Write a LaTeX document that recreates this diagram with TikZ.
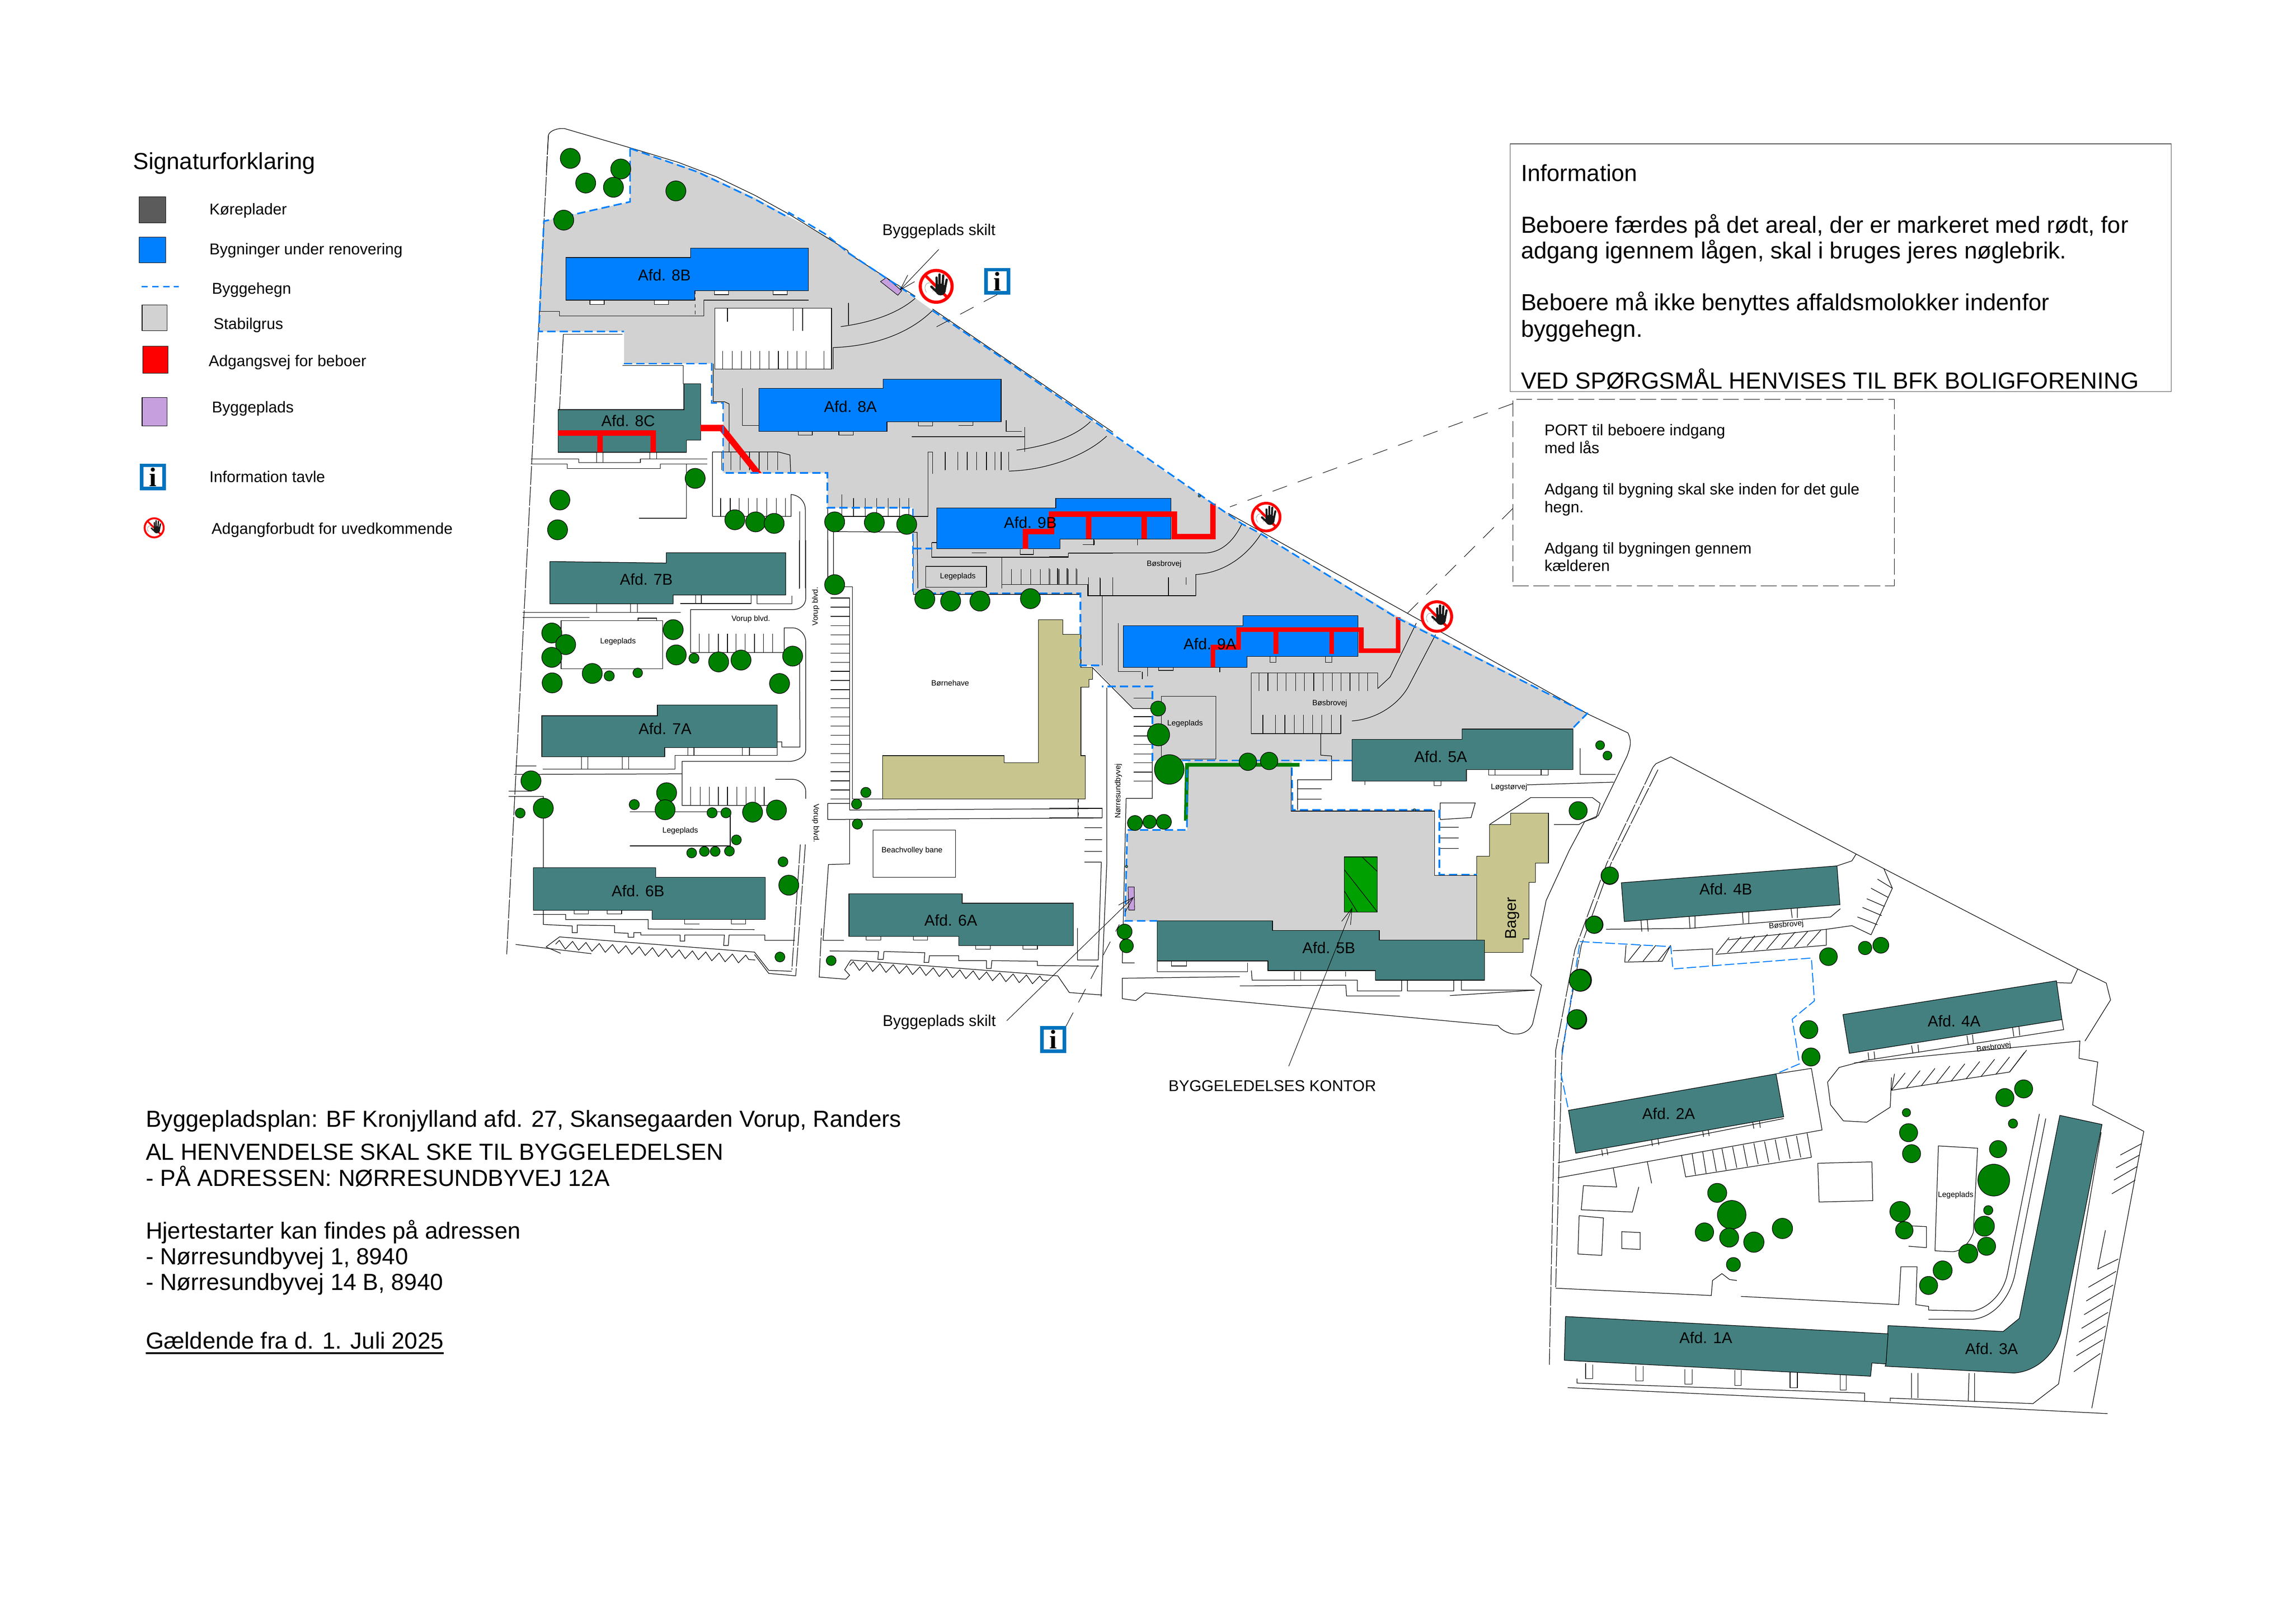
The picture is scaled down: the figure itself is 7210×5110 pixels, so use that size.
\documentclass[tikz,border=0pt]{standalone}
\usepackage{fontspec}
\setmainfont{Liberation Sans}
\newfontfamily\signfont{Liberation Serif}
\usetikzlibrary{arrows.meta}
\usetikzlibrary{decorations.pathmorphing}

\definecolor{plate}{RGB}{91,91,91}
\definecolor{renoblue}{RGB}{0,128,255}
\definecolor{teal1}{RGB}{68,128,128}
\definecolor{gravel}{RGB}{210,210,210}
\definecolor{plotpurple}{RGB}{198,160,222}
\definecolor{khaki1}{RGB}{200,198,142}
\definecolor{treegreen}{RGB}{0,128,0}
\definecolor{yardgreen}{RGB}{0,160,0}
\definecolor{infoblue}{RGB}{0,115,190}

\begin{document}
\begin{tikzpicture}[
        x=0.01cm, y=-0.01cm,
        zoneA/.style={shift={(1600,350)}, x=0.012117cm, y=-0.009566cm},
        zoneB/.style={shift={(1600,1700)}, x=0.012117cm, y=-0.009566cm},
        zoneC/.style={shift={(3300,1500)}, x=0.012117cm, y=-0.012117cm},
        zoneD/.style={shift={(4800,2300)}, x=0.013393cm, y=-0.014349cm},
        outline/.style={draw=black, line width=.018cm},
        longdash/.style={outline, dash pattern=on .6cm off .05cm},
        fence/.style={draw=renoblue, line width=.05cm, dash pattern=on .26cm off .13cm},
        thinfence/.style={draw=renoblue, line width=.03cm, dash pattern=on .3cm off .1cm},
        block/.style={draw=black, line width=.018cm, fill=teal1},
        renoblock/.style={draw=black, line width=.018cm, fill=renoblue},
        tan/.style={draw=black, line width=.018cm, fill=khaki1},
        access/.style={draw=red, line width=.17cm, line join=miter},
        hedge/.style={draw=treegreen, line width=.12cm},
        treedot/.style={circle, fill=treegreen, draw=black, line width=.018cm, inner sep=0pt, minimum size=#1*0.01cm},
        treedot/.default=63,
        post/.style={circle, fill=teal1, draw=black, line width=.01cm, inner sep=0pt, minimum size=.08cm},
        afd/.style={font=\fontsize{14}{16}\selectfont, inner sep=0pt},
        mapsmall/.style={font=\fontsize{6.9}{8}\selectfont, inner sep=0pt},
        keytext/.style={font=\fontsize{14}{16}\selectfont, inner sep=0pt, anchor=base west},
        bigtext/.style={font=\fontsize{20.8}{24}\selectfont, inner sep=0pt, anchor=base west},
        leader/.style={draw=black, line width=.015cm, -{Straight Barb[length=.5cm,width=.3cm]}},
        dashleader/.style={draw=black, line width=.015cm, dash pattern=on .48cm off .36cm},
        infosign/.style={rectangle, draw=infoblue, line width=.11cm, fill=white, inner sep=0pt, minimum width=.7cm, minimum height=.73cm, font=\signfont\bfseries\fontsize{24}{24}\selectfont},
        stopdisc/.style={circle, fill=white, draw=red, inner sep=0pt},
    ]

    \def\stopsign#1#2#3#4{
        \pgfmathsetmacro \signu {#4*0.01}
        \pgfmathsetmacro \signw {#4*0.01*0.13}
        \begin{scope}[shift={(#2,#3)}, x=\signu cm, y=-\signu cm]
            \node[stopdisc, minimum size=1.82*\signu cm, line width=.18*\signu cm] (#1) at (0,0) {};
            \draw[draw=gray, line width=.01cm] (-.55,.35) .. controls (-.75,.1) and (-.6,-.25) .. (-.35,-.2) .. controls (-.15,-.15) and (-.15,.1) .. (-.2,.3);
            \draw[draw=red, line width=.16*\signu cm] (-.64,-.64) -- (.64,.64);
            \fill[black!90] (.25,.18) ellipse (.31 and .34);
            \draw[draw=black!90, line width=\signw cm, line cap=round] (.04,.1) -- (.02,-.5);
            \draw[draw=black!90, line width=\signw cm, line cap=round] (.2,.05) -- (.2,-.68);
            \draw[draw=black!90, line width=\signw cm, line cap=round] (.36,.05) -- (.4,-.62);
            \draw[draw=black!90, line width=\signw cm, line cap=round] (.5,.12) -- (.6,-.38);
            \draw[draw=black!90, line width=\signw cm, line cap=round] (.02,.3) -- (-.28,.02);
        \end{scope}
    }

    \useasboundingbox[fill=white] (0,0) rectangle (7210,5110);

    % Gravel areas
    \fill[gravel] (1982,467) -- (2194,537) -- (2375,623) -- (2478,680) -- (2606,747) -- (2672,795) -- (2872,933) -- (2933,977) -- (3175,1139) -- (3500,1369) -- (3688,1500) -- (3906,1645) -- (4390,1936) -- (4996,2245) -- (4948,2294) -- (4948,2400) -- (3625,2393) -- (3625,2229) -- (3564,2229) -- (3436,2094) -- (3399,2094) -- (3399,1867) -- (2872,1867) -- (2872,1598) -- (2603,1598) -- (2603,1488) -- (2275,1488) -- (2275,1268) -- (2239,1268) -- (2239,1144) -- (1963,1144) -- (1963,1043) -- (1695,1043) -- (1711,696) -- (1982,635) -- cycle;
    \begin{scope}[zoneC]
        \fill[gravel] (360,737) -- (630,737) -- (630,868) -- (1000,868) -- (1000,1035) -- (1110,1035) -- (1110,1203) -- (857,1203) -- (857,1178) -- (580,1178) -- (580,1153) -- (197,1153) -- (205,918) -- (358,918) -- cycle;
    \end{scope}

    % Outlines, upper left part
    \draw[longdash] (1725,427) -- (1594,3003);
    \draw[outline] (1622,2972) -- (1860,3001);
    \begin{scope}[zoneA]
        \draw[outline, fill=white] (535,647) -- (838,647) -- (838,848) -- (535,848) -- cycle;
        \draw[outline] (103,80) .. controls (105,65) and (125,55) .. (145,57) -- (315,120) -- (440,168) -- (540,216) -- (640,277) -- (727,338) -- (880,458) -- (882,468) -- (1055,608);
        \draw[outline] (1100,650) -- (1568,1055);
        \draw[longdash] (103,80) -- (98,200);
        \draw[outline] (80,658) -- (132,658) -- (132,673) -- (507,673) -- (507,621) -- (778,621);
        \draw[outline, dashed] (484,590) -- (484,670);
        \draw[outline] (882,630) -- (882,703);
        \draw[outline] (862,708) .. controls (940,695) and (1010,665) .. (1055,615);
        \draw[outline] (842,848) -- (842,777) .. controls (950,772) and (1040,730) .. (1100,655);
        \draw[outline] (568,647) -- (568,692) (739,647) -- (739,722) (763,647) -- (763,722);
        \draw[outline] (555,788) -- ++(0,60) (580,788) -- ++(0,60) (604,788) -- ++(0,60) (628,788) -- ++(0,60) (652,788) -- ++(0,60) (676,788) -- ++(0,60) (700,788) -- ++(0,60) (724,788) -- ++(0,60) (748,788) -- ++(0,60) (772,788) -- ++(0,60) (818,788) -- ++(0,60);
        \draw[outline] (607,910) -- (607,1033) -- (649,1033);
        \draw[outline] (752,1053) -- (752,1065) -- (788,1065) -- (788,1053) (857,1053) -- (857,1065) -- (894,1065) -- (894,1053);
        \draw[outline] (1063,1021) -- (1063,1035) -- (1100,1035) -- (1100,1021) (1168,1033) -- (1205,1033) -- (1205,1021);
        \draw[outline, fill=white] (211,621) -- (211,635) -- (248,635) -- (248,621) -- cycle (378,621) -- (378,635) -- (415,635) -- (415,621) -- cycle;
        \draw[outline, fill=white] (534,590) -- (534,603) -- (571,603) -- (571,590) -- cycle (686,590) -- (686,603) -- (723,603) -- (723,590) -- cycle;
        \draw[outline] (1291,1015) -- (1291,1053) -- (1332,1053) (1339,1038) -- (1339,1120) (1046,1070) -- (1339,1070);
        \draw[outline] (1318,1114) .. controls (1400,1100) and (1470,1070) .. (1510,1020);
        \draw[outline] (1298,1183) .. controls (1400,1180) and (1500,1130) .. (1552,1068);
        \draw[outline] (1088,1120) -- (1100,1120) -- (1100,1192) (1088,1120) -- (1088,1332) -- (838,1332);
        \draw[outline] (1133,1120) -- ++(0,60) (1166,1120) -- ++(0,60) (1190,1120) -- ++(0,60) (1214,1120) -- ++(0,60) (1240,1120) -- ++(0,60) (1262,1120) -- ++(0,60) (1278,1120) -- ++(0,60) (1298,1120) -- ++(0,60);
        \draw[outline] (531,830) -- (531,955) -- (560,955) -- (572,962) -- (572,1120);
        \draw[outline] (529,1332) -- (529,1120) -- (700,1120) -- (730,1130) -- (732,1190);
        \draw[outline] (553,1120) -- ++(0,60) (577,1120) -- ++(0,60) (601,1120) -- ++(0,60) (625,1120) -- ++(0,60) (650,1120) -- ++(0,60) (672,1120) -- ++(0,60) (698,1120) -- ++(0,60);
        \draw[outline] (529,1332) -- (733,1332) -- (733,1260) .. controls (755,1262) and (770,1285) .. (770,1310) -- (770,1568);
        \draw[outline] (755,1568) -- (755,1315);
        \draw[outline] (550,1272) -- ++(0,60) (575,1272) -- ++(0,60) (598,1272) -- ++(0,60) (622,1272) -- ++(0,60) (645,1272) -- ++(0,60) (670,1272) -- ++(0,60) (695,1272) -- ++(0,60) (718,1272) -- ++(0,60);
        \draw[outline] (865,1260) -- ++(0,72) (895,1272) -- ++(0,60) (925,1272) -- ++(0,60) (955,1272) -- ++(0,60) (985,1272) -- ++(0,60) (1015,1272) -- ++(0,60) (1038,1272) -- ++(0,60);
        \draw[outline] (828,1305) -- (828,1568) (843,1568) -- (843,1382) -- (1060,1384) -- (1062,1568);
        \draw[outline] (142,733) -- (295,733);
        \draw[longdash] (142,733) -- (132,981);
        \draw[outline] (295,836) -- (453,836) -- (453,896);
        \draw[outline] (58,1143) -- (182,1143) -- (182,1155) -- (342,1155) -- (342,1143) -- (515,1143);
        \draw[outline] (58,1160) -- (152,1160) -- (152,1175) -- (394,1175) -- (394,1160) -- (515,1160);
        \draw[outline] (228,1121) -- (228,1155) (245,1121) -- (245,1155) (366,1121) -- (366,1143) (384,1121) -- (384,1143);
        \draw[outline] (461,1160) -- (461,1338) -- (338,1338);
        \draw[outline] (1098,1418) -- (1098,1466) -- (1452,1466) -- (1452,1453) -- (1568,1453) (1098,1418) -- (1112,1418);
        \draw[outline] (1202,1452) -- (1240,1452) (1327,1440) -- (1327,1457) -- (1362,1457) -- (1362,1440) (1490,1425) -- (1520,1425) -- (1520,1410);
        \draw[outline] (1280,1466) -- (1280,1568);
    \end{scope}

    % Outlines, lower left part
    \begin{scope}[zoneB]
        \draw[outline] (1082,86) -- (1240,86) -- (1240,155) -- (1082,155) -- cycle;
        \draw[outline] (1280,146) -- (1503,146) -- (1503,183) -- (1568,183) (1535,125) -- (1535,183);
        \draw[outline] (1305,95) -- ++(0,51) (1330,95) -- ++(0,51) (1355,95) -- ++(0,51) (1380,95) -- ++(0,51) (1405,95) -- ++(0,51) (1428,95) -- ++(0,51) (1452,95) -- ++(0,51) (1475,95) -- ++(0,51);
        \draw[outline] (1050,0) -- (1050,178) -- (1485,178);
        \draw[outline] (843,0) -- (843,153) -- (892,153) -- (892,851) -- (971,851);
        \draw[outline] (836,190) -- ++(49,0) (836,220) -- ++(49,0) (836,250) -- ++(49,0) (836,281) -- ++(49,0) (836,311) -- ++(49,0) (836,341) -- ++(49,0) (836,371) -- ++(49,0) (836,401) -- ++(49,0) (836,431) -- ++(49,0) (836,461) -- ++(49,0) (836,491) -- ++(49,0) (836,521) -- ++(49,0) (836,551) -- ++(49,0) (836,581) -- ++(49,0) (836,611) -- ++(49,0) (836,641) -- ++(49,0) (836,671) -- ++(49,0) (836,701) -- ++(49,0) (836,731) -- ++(49,0) (836,761) -- ++(49,0) (836,791) -- ++(49,0) (836,821) -- ++(49,0) (836,851) -- ++(49,0);
        \draw[outline] (885,190) -- (885,887) -- (1540,882);
        \draw[outline] (828,0) -- (828,150) (828,865) -- (885,865) (828,865) -- (828,918) -- (1540,913);
        \draw[outline] (885,918) -- (885,1064) -- (830,1066) -- (816,1315) -- (870,1315);
        \draw[outline, dashed] (1478,851) -- (1478,912);
        \draw[outline] (1494,945) -- (1540,945) (1496,984) -- (1540,984) (1494,1023) -- (1540,1023) (1494,1058) -- (1538,1058) -- (1530,1380) -- (1476,1380) -- (1476,1275);
        \draw[outline] (946,953) -- (1160,953) -- (1160,1108) -- (946,1108) -- cycle;
        \draw[outline] (771,0) -- (771,190) .. controls (771,215) and (755,228) .. (737,228) -- (472,228) -- (472,369) -- (715,369) -- (715,288) -- (737,288) .. controls (755,288) and (771,310) .. (771,335) -- (771,690) .. controls (771,710) and (750,727) .. (727,727) -- (450,727) -- (450,872) -- (692,872);
        \draw[outline] (754,0) -- (754,160);
        \draw[outline] (692,786) -- (737,786) .. controls (755,786) and (771,805) .. (771,825) -- (771,850);
        \draw[outline] (755,372) -- (756,680) -- (709,680) -- (709,663) -- (697,663);
        \draw[outline] (495,308) -- ++(0,61) (520,308) -- ++(0,61) (544,308) -- ++(0,61) (568,308) -- ++(0,61) (590,308) -- ++(0,61) (614,308) -- ++(0,61) (638,308) -- ++(0,61) (661,308) -- ++(0,61) (685,308) -- ++(0,61);
        \draw[outline] (472,811) -- ++(0,61) (497,811) -- ++(0,61) (521,811) -- ++(0,61) (544,811) -- ++(0,61) (568,811) -- ++(0,61) (592,811) -- ++(0,61) (616,811) -- ++(0,61) (640,811) -- ++(0,61) (663,811) -- ++(0,61);
        \draw[outline] (228,209) -- (228,237) (316,209) -- (316,237) (334,209) -- (334,237);
        \draw[outline] (445,208) -- (629,208) -- (629,180) (645,180) -- (645,209) -- (735,209) -- (735,183) (485,180) -- (485,208) (500,180) -- (500,208);
        \draw[outline] (36,237) -- (446,237) (36,254) -- (210,254);
        \draw[outline] (136,265) -- (400,265) -- (400,423) -- (136,423) -- cycle;
        \draw[outline] (336,265) -- (336,256) -- (384,256) -- (384,265);
        \draw[outline] (189,712) -- (189,752) (206,712) -- (206,752) (295,712) -- (295,752) (312,712) -- (312,752);
        \draw[outline] (88,752) -- (432,752) -- (432,707) -- (697,707) -- (697,682);
        \draw[outline] (465,682) -- (465,707) (481,682) -- (481,707) (607,682) -- (607,707) (625,682) -- (625,707);
        \draw[outline] (14,770) -- (450,768) (18,742) -- (72,742) (0,825) -- (60,825);
        \draw[outline] (0,842) -- (90,842) -- (90,1263) -- (165,1268) -- (165,1290) -- (178,1290) -- (178,1265) -- (275,1267) -- (275,1290) -- (310,1292) -- (310,1305) -- (325,1305) -- (325,1290) -- (343,1290) -- (343,1298) -- (445,1298) -- (445,1318) -- (457,1318) -- (457,1298) -- (560,1298) -- (558,1332) -- (570,1332) -- (572,1298) -- (665,1298) -- (665,1315) -- (743,1315);
        \draw[outline] (64,1230) -- (148,1230) -- (148,1247) -- (362,1247) -- (362,1278) -- (638,1280);
        \draw[outline] (170,1216) -- (170,1229) -- (207,1229) -- (207,1216) (256,1216) -- (256,1229) -- (293,1229) -- (293,1216) (457,1247) -- (457,1262) -- (495,1262) (578,1247) -- (578,1262) -- (615,1262) -- (615,1247);
        \draw[outline] (315,893) -- (575,893) -- (575,1005) -- (315,1005);
        \draw[outline] (97,1337) -- (132,1304) -- (638,1354) -- (675,1414) -- (735,1417) (97,1337) -- (135,1358) (745,1432) -- (675,1424) -- (638,1362);
        \draw[outline, decorate, decoration={zigzag, segment length=.42cm, amplitude=.13cm}] (122,1328) -- (640,1380);
        \draw[longdash] (770,1000) -- (745,1432) (757,1000) -- (735,1412);
        \draw[outline] (805,1436) -- (875,1443) -- (885,1430) -- (872,1412) -- (888,1380) -- (1425,1432) -- (1455,1487) -- (1540,1495);
        \draw[outline, decorate, decoration={zigzag, segment length=.42cm, amplitude=.13cm}] (885,1398) -- (1398,1448);
        \draw[outline] (928,1302) -- (928,1314) -- (966,1314) -- (966,1302) (1050,1302) -- (1050,1314) -- (1087,1314) -- (1087,1302) (1212,1333) -- (1212,1345) -- (1250,1345) -- (1250,1333) (1335,1333) -- (1335,1345) -- (1372,1345) -- (1372,1333);
        \draw[outline] (833,1350) -- (960,1352) -- (958,1378) -- (972,1378) -- (974,1352) -- (1080,1356) -- (1078,1388) -- (1090,1388) -- (1092,1366) -- (1168,1366) -- (1168,1382) -- (1240,1382) -- (1240,1408) -- (1252,1408) -- (1254,1382) -- (1372,1384) -- (1372,1398) -- (1532,1400);
        \draw[longdash] (806,1436) -- (812,1276);
    \end{scope}

    % Outlines, middle part
    \begin{scope}[zoneC]
        \draw[outline] (465,95) -- (1400,617) -- (1502,665) .. controls (1515,690) and (1505,710) .. (1500,725) -- (1425,880) -- (1390,895) -- (1350,970) -- (1290,1100) -- (1250,1295) -- (1278,1320) -- (1255,1420) .. controls (1240,1455) and (1190,1455) .. (1165,1425) -- (250,1340) -- (225,1360) -- (190,1355) -- (190,1302) -- (495,1298);
        \draw[outline] (50,198) -- (408,198) .. controls (450,195) and (480,165) .. (500,123);
        \draw[outline] (381,309) -- (381,254) .. controls (450,250) and (510,210) .. (549,150);
        \draw[outline] (102,309) -- (381,309) (102,309) -- (102,262) (138,309) -- (138,490);
        \draw[outline] (0,238) -- ++(0,42) (22,238) -- ++(0,42) (47,238) -- ++(0,42) (70,238) -- ++(0,42) (132,262) -- ++(0,47) (165,262) -- ++(0,47) (310,262) -- ++(0,47) (356,262) -- ++(0,18);
        \draw[outline] (116,162) -- (116,178) (230,162) -- (230,178) (0,208) -- (50,208);
        \draw[outline] (112,495) -- (218,602) -- (268,602) (150,548) -- (150,1000) -- (135,1350);
        \draw[outline] (0,860) -- (138,860) (75,840) -- (75,885) (0,885) -- (138,885) -- (138,860);
        \draw[outline] (200,835) -- (268,835) -- (268,737) (200,835) -- (190,1262) -- (222,1262);
        \draw[outline] (220,575) -- (268,575) (220,623) -- (268,623) (220,648) -- (268,648) (220,673) -- (268,673) (220,695) -- (268,695) (220,720) -- (268,720) (220,743) -- (268,743) (220,767) -- (268,767) (220,790) -- (268,790);
        \draw[outline] (291,570) -- (433,570) -- (433,733) -- (291,733) -- cycle;
        \draw[outline] (180,380) -- (180,506) -- (238,506) (284,495) -- (284,503) -- (322,503) -- (322,495) (242,506) -- (242,525) (256,490) -- (256,518) (443,495) -- (443,508);
        \draw[outline] (573,467) -- (573,482) -- (589,482) -- (589,467) (717,467) -- (717,482) -- (734,482) -- (734,467);
        \draw[outline] (853,509) -- (525,509) -- (525,667) -- (757,667);
        \draw[outline] (545,509) -- ++(0,48) (568,509) -- ++(0,48) (592,509) -- ++(0,48) (615,509) -- ++(0,48) (640,509) -- ++(0,48) (663,509) -- ++(0,48) (687,509) -- ++(0,48) (711,509) -- ++(0,48) (735,509) -- ++(0,48) (758,509) -- ++(0,48) (781,509) -- ++(0,48) (804,509) -- ++(0,48) (827,509) -- ++(0,48) (853,509) -- ++(0,41);
        \draw[outline] (555,618) -- ++(0,49) (588,618) -- ++(0,49) (612,618) -- ++(0,49) (636,618) -- ++(0,49) (660,618) -- ++(0,49) (684,618) -- ++(0,49) (708,618) -- ++(0,49) (733,618) -- ++(0,49) (757,618) -- ++(0,49);
        \draw[outline] (853,550) -- (885,520) -- (953,380);
        \draw[outline] (786,634) .. controls (850,630) and (910,590) .. (935,540) -- (1003,410);
        \draw[outline] (705,667) -- (705,723) -- (733,725) -- (733,787) -- (645,787) -- (645,865) (645,810) -- (707,810) (645,837) -- (707,837);
        \draw[outline] (628,755) -- (628,868) -- (1000,868) -- (1000,1035) -- (1110,1035);
        \draw[outline] (1015,890) -- (1015,847) -- (1106,847) -- (1095,885) -- (1015,890) (1015,910) -- (1063,910) (1015,938) -- (1063,938) (1015,965) -- (1063,965);
        \draw[outline] (820,790) -- (820,800) (999,790) -- (999,802) -- (1017,802) -- (1017,790) (1141,760) -- (1141,775) -- (1295,775) -- (1295,760) (1157,760) -- (1157,775) (1277,760) -- (1277,775);
        \draw[outline] (1240,800) -- (1465,793) (1378,705) -- (1378,773) -- (1470,773);
        \draw[outline] (1143,903) -- (1250,833) -- (1410,833) -- (1430,848) -- (1420,885) -- (1385,897) -- (1375,903) -- (1310,903);
        \draw[outline] (281,1257) -- (281,1285) -- (515,1285) -- (515,1262) (318,1257) -- (318,1270) -- (357,1270) -- (357,1257);
        \draw[outline] (525,1282) -- (527,1307) -- (800,1307) -- (800,1335) -- (915,1335) -- (915,1307) (930,1307) -- (930,1335) -- (1050,1335) -- (1050,1307) (1070,1307) -- (1070,1333) -- (1260,1333);
        \draw[outline] (495,1322) -- (770,1320) -- (772,1348) -- (910,1348) (1040,1347) -- (1260,1333);
        \draw[outline] (636,1285) -- (636,1307) (653,1285) -- (653,1307) (770,1285) -- (770,1297);
    \end{scope}

    % Outlines, right part
    \begin{scope}[zoneD]
        \draw[outline] (298,80) -- (305,72) -- (340,57) -- (775,270) -- (840,302) -- (1295,522) -- (1362,553) -- (1372,590) -- (1312,680);
        \draw[longdash] (298,80) -- (190,290) -- (115,480) -- (70,700) -- (55,1390);
        \draw[longdash] (310,85) -- (200,290) -- (130,470) -- (85,700) -- (70,1220);
        \draw[outline] (730,296) -- (765,285) -- (775,270) (1245,552) -- (1280,553) -- (1295,522);
        \draw[outline] (188,435) -- (385,433) -- (715,408) -- (738,390);
        \draw[outline] (270,415) -- (272,440) (285,415) -- (287,440) (383,405) -- (385,433) (397,405) -- (397,433) (508,397) -- (510,422) (523,397) -- (523,422) (622,388) -- (625,410) (637,388) -- (637,410);
        \draw[outline] (445,490) -- (705,470) -- (705,435) -- (765,427) -- (810,447) -- (860,345) -- (840,302) (475,458) -- (705,435) (860,345) -- (825,325);
        \draw[outline] (447,488) -- (477,453) (473,486) -- (505,451) (505,484) -- (537,449) (535,481) -- (567,446) (565,479) -- (597,444) (600,476) -- (632,441) (630,474) -- (662,439) (660,471) -- (692,437);
        \draw[outline] (810,345) -- (850,365) (800,368) -- (842,385) (790,387) -- (835,405) (778,408) -- (825,425);
        \draw[outline] (235,470) -- (232,507) -- (320,505) -- (340,470) (240,505) -- (270,470) (275,505) -- (305,470) (310,505) -- (340,470);
        \draw[outline] (345,482) -- (438,478) -- (438,515);
        \draw[outline] (803,705) -- (805,722) (817,703) -- (819,720) (905,690) -- (908,707) (920,688) -- (922,705) (1035,668) -- (1038,687) (1048,666) -- (1050,685) (1142,650) -- (1145,670) (1157,648) -- (1159,668);
        \draw[outline] (1258,633) -- (1262,655) -- (800,722) -- (735,738) -- (708,770) -- (715,820) -- (745,855) -- (800,858) -- (855,825) -- (858,760);
        \draw[outline] (770,728) -- (1300,680) -- (1298,718) -- (1342,726) -- (1330,820) -- (1450,878) -- (1328,1485);
        \draw[outline] (858,788) -- (1135,748) -- (1175,700) (865,752) -- (858,788);
        \draw[outline] (890,750) -- (858,788) (925,745) -- (893,783) (960,740) -- (928,778) (995,735) -- (963,773) (1030,730) -- (998,768) (1065,725) -- (1033,763) (1100,720) -- (1068,758) (1135,715) -- (1103,753) (1170,705) -- (1135,748);
        \draw[outline] (587,752) -- (670,740) -- (695,875) -- (75,980) (75,947) -- (605,850);
        \draw[outline] (178,918) -- (180,932) (190,916) -- (192,930) (295,897) -- (297,910) (310,895) -- (312,908) (415,878) -- (417,890) (428,875) -- (430,888) (532,857) -- (535,872) (548,855) -- (550,870);
        \draw[outline] (365,930) -- (375,978) -- (670,935) -- (660,882);
        \draw[outline] (390,927) -- (398,973) (415,923) -- (423,970) (438,920) -- (447,966) (460,916) -- (470,963) (485,912) -- (495,958) (510,908) -- (520,955) (535,904) -- (545,950) (560,900) -- (570,946) (585,896) -- (595,942) (610,892) -- (620,938) (635,888) -- (645,935);
        \draw[outline] (205,958) -- (213,1000) -- (135,997) -- (130,1050) -- (250,1055) -- (265,1000) (285,945) -- (295,992);
        \draw[outline] (125,1063) -- (182,1068) -- (178,1150) -- (122,1147) -- cycle (225,1098) -- (268,1100) -- (268,1137) -- (225,1135) -- cycle;
        \draw[outline] (685,948) -- (812,945) -- (814,1030) -- (688,1033) -- cycle;
        \draw[outline] (70,1222) -- (435,1238) -- (438,1205) -- (460,1190) -- (478,1203) -- (495,1205);
        \draw[outline] (505,1240) -- (875,1258) -- (880,1175) -- (918,1175) -- (915,1258) -- (945,1262) -- (945,1270) -- (1050,1272) .. controls (1085,1265) and (1120,1235) .. (1130,1190) -- (1205,840);
        \draw[outline] (945,1290) -- (1050,1290) .. controls (1100,1285) and (1140,1240) .. (1150,1180) -- (1220,850);
        \draw[outline] (968,910) -- (1060,915) -- (1050,1100) .. controls (1040,1125) and (1020,1142) .. (1000,1142) -- (960,1140) -- cycle;
        \draw[outline] (898,1085) -- (940,1087) -- (940,1133) -- (898,1130);
        \draw[outline] (140,1387) -- (140,1420) -- (157,1420) -- (157,1390) (258,1393) -- (258,1425) -- (275,1425) -- (275,1393) (373,1400) -- (373,1432) -- (390,1432) -- (390,1400) (490,1402) -- (490,1435) -- (505,1435) -- (505,1402) (620,1407) -- (620,1440) -- (637,1440) -- (637,1407) (738,1412) -- (738,1445) -- (752,1445) -- (752,1412);
        \draw[outline] (120,1420) -- (120,1430) -- (795,1452) -- (795,1470) -- (98,1440);
        \draw[outline] (855,1470) -- (855,1463) -- (1190,1475) -- (1250,1432) -- (1350,880);
        \draw[outline] (795,1470) -- (1365,1497);
        \draw[outline] (905,1408) -- (905,1463) (920,1408) -- (920,1463) (1040,1408) -- (1038,1470) (1053,1408) -- (1053,1470);
        \draw[outline] (1445,905) -- (1395,930) (1440,930) -- (1385,958) (1435,955) -- (1380,985) (1430,985) -- (1375,1015);
        \draw[outline] (1360,1095) -- (1342,1180) -- (1390,1158);
        \draw[outline] (1385,1185) -- (1320,1220) (1378,1215) -- (1315,1250) (1372,1245) -- (1310,1280) (1366,1275) -- (1304,1310) (1360,1305) -- (1298,1340) (1354,1335) -- (1292,1370) (1348,1365) -- (1286,1405);
    \end{scope}

    % Buildings
    \begin{scope}[zoneA]
        \draw[renoblock] (149,481) -- (472,481) -- (472,450) -- (778,450) -- (778,590) -- (483,590) -- (483,621) -- (149,621) -- cycle;
        \draw[renoblock] (649,911) -- (972,911) -- (972,881) -- (1278,881) -- (1278,1021) -- (982,1021) -- (982,1053) -- (649,1053) -- cycle;
        \draw[block] (128,981) -- (455,981) -- (455,896) -- (498,896) -- (498,1081) -- (461,1081) -- (461,1121) -- (128,1121) -- cycle;
        \draw[draw=black, line width=.015cm, fill=plotpurple] (965,560) -- (980,547) -- (1020,590) -- (1010,605) -- cycle;
        \draw[access] (128,1058) -- (375,1058) -- (375,1121) (237,1058) -- (237,1121);
        \fill[red] (498,1031) -- (557,1031) -- (657,1190) -- (636,1190) -- (549,1052) -- (498,1052) -- cycle;
    \end{scope}
    \draw[renoblock] (2947,1598) -- (3321,1598) -- (3321,1568) -- (3684,1568) -- (3684,1696) -- (3335,1696) -- (3335,1727) -- (2947,1727) -- cycle;
    \draw[access] (3226,1727) -- (3226,1673) -- (3308,1673) -- (3308,1618) -- (3694,1618) -- (3694,1688) -- (3815,1688) -- (3815,1585) (3425,1618) -- (3425,1696) (3599,1618) -- (3599,1696);
    \begin{scope}[zoneB]
        \draw[block] (107,70) -- (409,75) -- (409,41) -- (719,41) -- (719,180) -- (427,180) -- (427,209) -- (107,209) -- cycle;
        \draw[block] (86,577) -- (386,577) -- (386,542) -- (697,542) -- (697,682) -- (405,682) -- (405,712) -- (86,712) -- cycle;
        \draw[block] (64,1076) -- (382,1076) -- (382,1108) -- (666,1108) -- (666,1247) -- (372,1247) -- (372,1216) -- (64,1216) -- cycle;
        \draw[block] (883,1162) -- (1177,1162) -- (1177,1193) -- (1465,1193) -- (1465,1333) -- (1168,1333) -- (1168,1302) -- (883,1302) -- cycle;
        \draw[tan] (1375,262) -- (1438,262) -- (1438,310) -- (1485,310) -- (1485,418) -- (1515,418) -- (1515,457) -- (1506,457) -- (1506,483) -- (1485,483) -- (1485,708) -- (1496,708) -- (1496,851) -- (971,851) -- (971,708) -- (1286,708) -- (1286,731) -- (1375,731) -- cycle;
    \end{scope}
    \begin{scope}[zoneC]
        \draw[renoblock] (193,387) -- (503,387) -- (503,361) -- (802,361) -- (802,467) -- (514,467) -- (514,495) -- (193,495) -- cycle;
        \draw[access, line width=.15cm] (425,495) -- (425,443) -- (492,443) -- (492,397) -- (810,397) -- (810,452) -- (906,452) -- (906,365) (589,397) -- (589,460) (733,397) -- (733,460);
        \draw[block] (786,682) -- (1072,682) -- (1072,655) -- (1360,655) -- (1360,760) -- (1083,760) -- (1083,790) -- (786,790) -- cycle;
        \draw[block] (281,1153) -- (580,1153) -- (580,1178) -- (857,1178) -- (857,1203) -- (1130,1203) -- (1130,1307) -- (847,1307) -- (847,1282) -- (568,1282) -- (568,1257) -- (281,1257) -- cycle;
        \draw[tan] (1198,873) -- (1296,873) -- (1296,1003) -- (1262,1003) -- (1262,1053) -- (1245,1053) -- (1245,1200) -- (1230,1200) -- (1230,1235) -- (1130,1235) -- (1130,1203) -- (1110,1203) -- (1110,985) -- (1143,985) -- (1143,903) -- (1198,903) -- cycle;
        \draw[draw=black, line width=.015cm, fill=yardgreen] (766,987) -- (852,987) -- (852,1130) -- (766,1130) -- cycle;
        \draw[outline] (766,1020) -- (852,1130) (812,987) -- (852,1025) (766,1075) -- (800,1130);
        \draw[draw=black, line width=.015cm, fill=plotpurple] (205,1065) -- (221,1065) -- (222,1125) -- (207,1125) -- cycle;
        \draw[hedge] (650,748) -- (358,748) -- (355,893);
    \end{scope}
    \begin{scope}[zoneD]
        \draw[block] (224,333) -- (730,296) -- (737,381) -- (231,418) -- cycle;
        \draw[block] (744,622) -- (1245,548) -- (1258,633) -- (759,707) -- cycle;
        \draw[block] (100,832) -- (587,752) -- (605,846) -- (117,926) -- cycle;
        \draw[block] (850,1304) -- (1120,1317) -- (1158,1288) -- (1253,843) -- (1352,863) -- (1255,1320) .. controls (1240,1370) and (1195,1405) .. (1145,1408) -- (843,1393) -- (845,1388) -- cycle;
        \draw[block] (93,1284) -- (850,1322) -- (845,1388) -- (812,1386) -- (809,1415) -- (90,1380) -- cycle;
    \end{scope}

    % Fences
    \draw[fence] (1982,467) -- (2194,541) -- (2375,627) -- (2476,682) -- (2482,669) -- (2594,735) -- (2672,798) -- (2878,935);
    \draw[fence] (2933,977) -- (3175,1142) -- (3500,1366) -- (3906,1648) -- (3960,1676) -- (4390,1942) -- (4993,2245) -- (4945,2294);
    \draw[fence] (1982,467) -- (1982,635) -- (1711,696) -- (1695,1043) -- (1963,1043);
    \draw[fence] (1963,1144) -- (2239,1144) -- (2239,1268) -- (2275,1268) -- (2275,1488) -- (2603,1488) -- (2603,1598) -- (2872,1598) -- (2872,1867) -- (3399,1867) -- (3399,2094) -- (3467,2094);
    \draw[fence] (2872,1726) -- (2933,1726);
    \draw[fence] (4252,2393) -- (3625,2393) -- (3625,2160) -- (3467,2160);
    \begin{scope}[zoneC]
        \draw[fence] (630,755) -- (632,865) -- (1000,865);
        \draw[fence] (1013,865) -- (1013,1033) -- (1110,1033);
        \draw[fence] (358,760) -- (358,917) -- (203,917) -- (197,1153) -- (281,1153);
    \end{scope}
    \begin{scope}[zoneD]
        \draw[thinfence] (85,710) -- (127,462) -- (340,473) -- (345,522) -- (438,515) -- (670,498) -- (677,592) -- (625,632) -- (642,730) -- (587,752);
        \draw[thinfence] (82,750) -- (100,832);
    \end{scope}

    % Trees
    \begin{scope}[zoneA]
        \node[treedot] (TA1) at (160,155) {};
        \node[treedot] (TA2) at (291,190) {};
        \node[treedot] (TA3) at (200,236) {};
        \node[treedot] (TA4) at (272,250) {};
        \node[treedot] (TA5) at (434,262) {};
        \node[treedot] (TA6) at (143,358) {};
        \node[treedot] (TA7) at (484,1207) {};
        \node[treedot] (TA8) at (133,1278) {};
        \node[treedot] (TA9) at (127,1376) {};
        \node[treedot] (TA10) at (587,1343) {};
        \node[treedot] (TA11) at (641,1350) {};
        \node[treedot] (TA12) at (689,1355) {};
        \node[treedot] (TA13) at (846,1350) {};
        \node[treedot] (TA14) at (949,1352) {};
        \node[treedot] (TA15) at (1033,1358) {};
    \end{scope}
    \begin{scope}[zoneB]
        \node[treedot] (TB1) at (846,146) {};
        \node[treedot] (TB2) at (1080,193) {};
        \node[treedot] (TB3) at (1147,200) {};
        \node[treedot] (TB4) at (1223,200) {};
        \node[treedot] (TB5) at (1354,192) {};
        \node[treedot] (TB6) at (112,305) {};
        \node[treedot] (TB7) at (148,343) {};
        \node[treedot] (TB8) at (112,385) {};
        \node[treedot] (TB9) at (113,469) {};
        \node[treedot] (TB10) at (217,438) {};
        \node[treedot] (TB11) at (427,294) {};
        \node[treedot] (TB12) at (435,377) {};
        \node[treedot] (TB13) at (545,400) {};
        \node[treedot] (TB14) at (603,394) {};
        \node[treedot] (TB15) at (737,381) {};
        \node[treedot] (TB16) at (703,471) {};
        \node[treedot=32] (TB17) at (261,446) {};
        \node[treedot=30] (TB18) at (335,436) {};
        \node[treedot=32] (TB19) at (481,388) {};
        \node[treedot] (TB20) at (58,791) {};
        \node[treedot] (TB21) at (90,881) {};
        \node[treedot=31] (TB22) at (30,897) {};
        \node[treedot] (TB23) at (410,830) {};
        \node[treedot] (TB24) at (406,886) {};
        \node[treedot=32] (TB25) at (326,869) {};
        \node[treedot=32] (TB26) at (528,896) {};
        \node[treedot=32] (TB27) at (564,896) {};
        \node[treedot] (TB28) at (633,894) {};
        \node[treedot] (TB29) at (695,887) {};
        \node[treedot=31] (TB30) at (591,985) {};
        \node[treedot=31] (TB31) at (475,1028) {};
        \node[treedot=31] (TB32) at (508,1023) {};
        \node[treedot=31] (TB33) at (536,1023) {};
        \node[treedot=31] (TB34) at (573,1022) {};
        \node[treedot=31] (TB35) at (712,1057) {};
        \node[treedot] (TB36) at (727,1134) {};
        \node[treedot=31] (TB37) at (704,1370) {};
        \node[treedot=31] (TB38) at (837,1382) {};
        \node[treedot=32] (TB39) at (903,867) {};
        \node[treedot=32] (TB40) at (927,829) {};
        \node[treedot=32] (TB41) at (905,933) {};
    \end{scope}
    \begin{scope}[zoneC]
        \node[treedot=47] (TC1) at (283,602) {};
        \node[treedot=70] (TC2) at (284,670) {};
        \node[treedot=93] (TC3) at (312,760) {};
        \node[treedot=55] (TC4) at (516,740) {};
        \node[treedot=55] (TC5) at (571,738) {};
        \node[treedot=47] (TC6) at (223,899) {};
        \node[treedot=42] (TC7) at (261,896) {};
        \node[treedot=47] (TC8) at (298,896) {};
        \node[treedot=47] (TC9) at (196,1181) {};
        \node[treedot=43] (TC10) at (201,1218) {};
        \node[treedot=57] (TC11) at (1373,867) {};
        \node[treedot=28] (TC12) at (1430,697) {};
        \node[treedot=28] (TC13) at (1449,724) {};
        \node[treedot=55] (TC14) at (1455,1036) {};
        \node[treedot=55] (TC15) at (1415,1163) {};
        \node[treedot=70] (TC16) at (1379,1307) {};
        \node[treedot=62] (TC17) at (1370,1409) {};
        \node[post] (PC1) at (390,50) {};
        \node[post] (PC2) at (948,865) {};
        \node[post] (PC3) at (201,1012) {};
    \end{scope}
    \begin{scope}[zoneD]
        \node[treedot=54] (TD1) at (197,317) {};
        \node[treedot=54] (TD2) at (160,425) {};
        \node[treedot=68] (TD3) at (127,547) {};
        \node[treedot=60] (TD4) at (119,632) {};
        \node[treedot=56] (TD5) at (710,495) {};
        \node[treedot=42] (TD6) at (796,476) {};
        \node[treedot=50] (TD7) at (833,470) {};
        \node[treedot=57] (TD8) at (664,655) {};
        \node[treedot=57] (TD9) at (669,715) {};
        \node[treedot=57] (TD10) at (1168,785) {};
        \node[treedot=57] (TD11) at (1124,804) {};
        \node[treedot=29] (TD12) at (1143,861) {};
        \node[treedot=26] (TD13) at (893,837) {};
        \node[treedot=57] (TD14) at (898,881) {};
        \node[treedot=57] (TD15) at (905,927) {};
        \node[treedot=54] (TD16) at (1108,917) {};
        \node[treedot=100] (TD17) at (1098,985) {};
        \node[treedot=64] (TD18) at (878,1054) {};
        \node[treedot=55] (TD19) at (888,1095) {};
        \node[treedot=29] (TD20) at (1085,1051) {};
        \node[treedot=63] (TD21) at (1076,1086) {};
        \node[treedot=57] (TD22) at (1081,1130) {};
        \node[treedot=60] (TD23) at (1038,1146) {};
        \node[treedot=60] (TD24) at (978,1183) {};
        \node[treedot=57] (TD25) at (945,1216) {};
        \node[treedot=60] (TD26) at (449,1013) {};
        \node[treedot=90] (TD27) at (483,1061) {};
        \node[treedot=58] (TD28) at (419,1099) {};
        \node[treedot=60] (TD29) at (477,1111) {};
        \node[treedot=64] (TD30) at (535,1121) {};
        \node[treedot=64] (TD31) at (602,1091) {};
        \node[treedot=44] (TD32) at (487,1170) {};
    \end{scope}

    % Building labels
    \node[afd] (A8B) at (2090,865) {Afd. 8B};
    \node[afd] (A8A) at (2675,1280) {Afd. 8A};
    \node[afd] (A8C) at (1976,1324) {Afd. 8C};
    \node[afd] (A9B) at (3241,1644) {Afd. 9B};
    \node[afd] (A7B) at (2033,1823) {Afd. 7B};
    \node[afd] (A7A) at (2092,2293) {Afd. 7A};
    \node[afd] (A6B) at (2007,2804) {Afd. 6B};
    \node[afd] (A6A) at (2991,2896) {Afd. 6A};
    \node[afd] (A9A) at (3806,2026) {Afd. 9A};
    \node[afd] (A5A) at (4532,2381) {Afd. 5A};
    \node[afd] (A5B) at (4180,2983) {Afd. 5B};
    \node[afd, rotate=90] (ABager) at (4757,2889) {Bager};
    \node[afd] (A4B) at (5429,2798) {Afd. 4B};
    \node[afd] (A4A) at (6147,3213) {Afd. 4A};
    \node[afd] (A2A) at (5249,3505) {Afd. 2A};
    \node[afd] (A1A) at (5366,4209) {Afd. 1A};
    \node[afd] (A3A) at (6265,4244) {Afd. 3A};

    % Small labels on the map
    \node[mapsmall] (M1) at (3013,1814) {Legeplads};
    \node[mapsmall] (M2) at (1944,2019) {Legeplads};
    \node[mapsmall] (M3) at (2362,1948) {Vorup blvd.};
    \node[mapsmall, rotate=90] (M4) at (2566,1908) {Vorup blvd.};
    \node[mapsmall] (M5) at (2989,2149) {Børnehave};
    \node[mapsmall] (M6) at (2140,2614) {Legeplads};
    \node[mapsmall, rotate=-90] (M7) at (2566,2590) {Vorup blvd.};
    \node[mapsmall] (M8) at (2869,2677) {Beachvolley bane};
    \node[mapsmall] (M9) at (3662,1776) {Bøsbrovej};
    \node[mapsmall] (M10) at (4183,2214) {Bøsbrovej};
    \node[mapsmall] (M11) at (3728,2277) {Legeplads};
    \node[mapsmall, rotate=90] (M12) at (3518,2489) {Nørresundbyvej};
    \node[mapsmall] (M13) at (4747,2477) {Løgstørvej};
    \node[mapsmall, rotate=5] (M14) at (5619,2911) {Bøsbrovej};
    \node[mapsmall, rotate=8] (M15) at (6272,3296) {Bøsbrovej};
    \node[mapsmall] (M16) at (6152,3761) {Legeplads};

    % Signs on the map
    \stopsign{StopA}{2945}{901}{55}
    \stopsign{StopB}{3983}{1627}{48}
    \stopsign{StopC}{4520}{1940}{51}
    \node[infosign] (InfoA) at (3137,885) {i};
    \node[infosign] (InfoB) at (3313,3271) {i};

    % Callouts
    \node[keytext] (SkiltA) at (2775,740) {Byggeplads skilt};
    \node[keytext] (SkiltB) at (2776,3229) {Byggeplads skilt};
    \node[keytext] (Kontor) at (3675,3434) {BYGGELEDELSES KONTOR};
    \coordinate (SkiltAfrom) at (2953,785);
    \coordinate (SkiltAto) at (2830,914);
    \coordinate (SkiltBfrom) at (3167,3212);
    \coordinate (SkiltBto) at (3567,2822);
    \coordinate (Kontorfrom) at (4054,3355);
    \coordinate (Kontorto) at (4254,2856);
    \draw[leader] (SkiltAfrom) -- (SkiltAto);
    \draw[leader] (SkiltBfrom) -- (SkiltBto);
    \draw[leader] (Kontorfrom) -- (Kontorto);
    \coordinate (InfoAto) at (2945,1029);
    \coordinate (InfoBto) at (3521,2909);
    \draw[dashleader] (InfoA.south) -- (InfoAto);
    \draw[dashleader] (InfoB.north east) -- (InfoBto);

    % Notes box
    \node[draw=black, dash pattern=on .5cm off .15cm, line width=.015cm, inner sep=0pt, minimum width=12cm, minimum height=5.86cm] (Notes) at (5359,1550) {};
    \coordinate (NotesA) at (4759,1270);
    \coordinate (NotesB) at (4759,1600);
    \coordinate (StopBnear) at (3869,1595);
    \coordinate (StopCnear) at (4427,1930);
    \draw[dashleader] (NotesA) -- (StopBnear);
    \draw[dashleader] (NotesB) -- (StopCnear);
    \node[keytext] (N1) at (4858,1371) {PORT til beboere indgang};
    \node[keytext] (N2) at (4858,1427) {med lås};
    \node[keytext] (N3) at (4858,1556) {Adgang til bygning skal ske inden for det gule};
    \node[keytext] (N4) at (4858,1613) {hegn.};
    \node[keytext] (N5) at (4858,1742) {Adgang til bygningen gennem};
    \node[keytext] (N6) at (4858,1797) {kælderen};

    % Information box
    \node[draw=black!70, line width=.015cm, inner sep=0pt, minimum width=20.79cm, minimum height=7.79cm] (InfoBox) at (5790.5,842.5) {};
    \node[bigtext] (B1) at (4784,570) {Information};
    \node[bigtext] (B2) at (4784,733) {Beboere færdes på det areal, der er markeret med rødt, for};
    \node[bigtext] (B3) at (4784,814) {adgang igennem lågen, skal i bruges jeres nøglebrik.};
    \node[bigtext] (B4) at (4784,977) {Beboere må ikke benyttes affaldsmolokker indenfor};
    \node[bigtext] (B5) at (4784,1060) {byggehegn.};
    \node[bigtext] (B6) at (4784,1223) {VED SPØRGSMÅL HENVISES TIL BFK BOLIGFORENING};

    % Legend
    \node[bigtext] (K0) at (418,533) {Signaturforklaring};
    \draw[draw=black, line width=.015cm, fill=plate] (438,620) rectangle (521,701);
    \draw[draw=black, line width=.015cm, fill=renoblue] (438,746) rectangle (521,827);
    \draw[draw=renoblue, line width=.03cm, dash pattern=on .2cm off .14cm] (445,902) -- (562,902);
    \draw[draw=black, line width=.015cm, fill=gravel] (447,960) rectangle (526,1040);
    \draw[draw=black, line width=.015cm, fill=red] (449,1089) rectangle (528,1175);
    \draw[draw=black, line width=.015cm, fill=plotpurple] (447,1251) rectangle (526,1340);
    \node[infosign] (InfoKey) at (481,1501) {i};
    \stopsign{StopKey}{485}{1661}{33}
    \node[keytext] (K1) at (658,676) {Køreplader};
    \node[keytext] (K2) at (658,801) {Bygninger under renovering};
    \node[keytext] (K3) at (666,925) {Byggehegn};
    \node[keytext] (K4) at (671,1036) {Stabilgrus};
    \node[keytext] (K5) at (656,1153) {Adgangsvej for beboer};
    \node[keytext] (K6) at (666,1298) {Byggeplads};
    \node[keytext] (K7) at (658,1518) {Information tavle};
    \node[keytext] (K8) at (665,1680) {Adgangforbudt for uvedkommende};

    % Title block
    \node[bigtext] (L1) at (458,3547) {Byggepladsplan: BF Kronjylland afd. 27, Skansegaarden Vorup, Randers};
    \node[bigtext] (L2) at (458,3650) {AL HENVENDELSE SKAL SKE TIL BYGGELEDELSEN};
    \node[bigtext] (L3) at (458,3733) {- PÅ ADRESSEN: NØRRESUNDBYVEJ 12A};
    \node[bigtext] (L4) at (458,3898) {Hjertestarter kan findes på adressen};
    \node[bigtext] (L5) at (458,3979) {- Nørresundbyvej 1, 8940};
    \node[bigtext] (L6) at (458,4060) {- Nørresundbyvej 14 B, 8940};
    \node[bigtext] (L7) at (458,4245) {Gældende fra d. 1. Juli 2025};
    \draw[line width=.05cm] ([yshift=-.13cm]L7.base west) -- ([yshift=-.13cm]L7.base east);
\end{tikzpicture}
\end{document}
